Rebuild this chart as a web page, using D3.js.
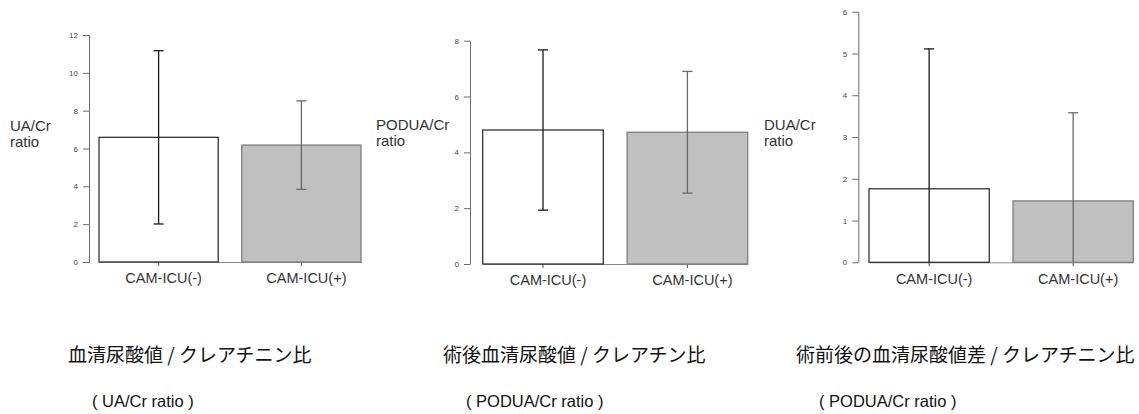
<!DOCTYPE html>
<html>
<head>
<meta charset="utf-8">
<script src="https://cdn.jsdelivr.net/npm/d3@7"></script>
<style>
  html, body { margin: 0; padding: 0; background: #fff; }
  svg { display: block; }
  .tick text { font-family: "Liberation Sans", Arial, sans-serif; }
</style>
</head>
<body>
<svg id="chart" width="1139" height="414"></svg>
<script>
// Group categories shared by all three panels
const categories = ["CAM-ICU(-)", "CAM-ICU(+)"];

// Serum uric acid / creatinine ratio (mean, SD)
const uaMeans = [6.59, 6.18];
const uaSD = [4.58, 2.34];
const uaTicks = [0, 2, 4, 6, 8, 10, 12];

// Post-operative serum uric acid / creatinine ratio
const poduaMeans = [4.80, 4.72];
const poduaSD = [2.87, 2.18];
const poduaTicks = [0, 2, 4, 6, 8];

// Pre/post-operative difference of serum uric acid / creatinine ratio
const duaMeans = [1.76, 1.47];
const duaSD = [3.35, 2.11];
const duaTicks = [0, 1, 2, 3, 4, 5, 6];

const yLabels = [["UA/Cr", "ratio"], ["PODUA/Cr", "ratio"], ["DUA/Cr", "ratio"]];
const titles = ["血清尿酸値 / クレアチニン比", "術後血清尿酸値 / クレアチン比", "術前後の血清尿酸値差 / クレアチニン比"];
const subtitles = ["( UA/Cr ratio )", "( PODUA/Cr ratio )", "( PODUA/Cr ratio )"];

// Panel layout (pixels)
const panels = [
  { means: uaMeans, sds: uaSD, ticks: uaTicks, axisX: 89, yTop: 35, yBottom: 262, barL: 99, barR: 361,
    labelX: 10, labelY: 131, titleX: 68, subX: 92 },
  { means: poduaMeans, sds: poduaSD, ticks: poduaTicks, axisX: 470, yTop: 40.7, yBottom: 264, barL: 482.7, barR: 747.7,
    labelX: 376, labelY: 129.5, titleX: 443, subX: 466 },
  { means: duaMeans, sds: duaSD, ticks: duaTicks, axisX: 858.3, yTop: 11.7, yBottom: 262.3, barL: 869, barR: 1133.3,
    labelX: 764, labelY: 130, titleX: 796, subX: 819 }
];

const barFill = ["#ffffff", "#c0c0c0"];
const barStroke = ["#333333", "#7d7d7d"];
const errColor = ["#1a1a1a", "#6a6a6a"];

const svg = d3.select("#chart");

panels.forEach((p, i) => {
  const g = svg.append("g");
  const y = d3.scaleLinear()
    .domain([d3.min(p.ticks), d3.max(p.ticks)])
    .range([p.yBottom, p.yTop]);
  const x = d3.scaleBand()
    .domain(categories)
    .range([p.barL, p.barR])
    .paddingInner(0.165)
    .paddingOuter(0);

  // y axis
  const yAxis = g.append("g")
    .attr("transform", `translate(${p.axisX},0)`)
    .call(d3.axisLeft(y).tickValues(p.ticks).tickSize(6).tickSizeOuter(0).tickPadding(5).tickFormat(d3.format("d")));
  yAxis.select(".domain").attr("stroke", "#6b6b6b").attr("stroke-width", 1);
  yAxis.selectAll(".tick line").attr("stroke", "#6b6b6b");
  yAxis.selectAll(".tick text").attr("fill", "#444").style("font-size", "8px");

  // x axis baseline with centre ticks
  const xAxis = g.append("g")
    .attr("transform", `translate(0,${p.yBottom})`)
    .call(d3.axisBottom(x).tickSize(4).tickSizeOuter(0).tickPadding(7));
  xAxis.select(".domain").attr("stroke", "#8a8a8a").attr("stroke-width", 1);
  xAxis.selectAll(".tick line").attr("stroke", "#555");
  xAxis.selectAll(".tick text")
    .attr("fill", "#333")
    .attr("dx", 5)
    .style("font-size", "14.5px");

  // bars
  g.selectAll("rect.bar")
    .data(categories)
    .join("rect")
    .attr("class", "bar")
    .attr("x", d => x(d))
    .attr("y", (d, j) => y(p.means[j]))
    .attr("width", x.bandwidth())
    .attr("height", (d, j) => y(0) - y(p.means[j]))
    .attr("fill", (d, j) => barFill[j])
    .attr("stroke", (d, j) => barStroke[j])
    .attr("stroke-width", 1.3);

  // error bars (mean ± SD, clipped at zero)
  const capW = 5;
  categories.forEach((c, j) => {
    const cx = x(c) + x.bandwidth() / 2;
    const hi = p.means[j] + p.sds[j];
    const loRaw = p.means[j] - p.sds[j];
    const lo = Math.max(0, loRaw);
    const eg = g.append("g").attr("stroke", errColor[j]).attr("stroke-width", 1.3);
    eg.append("line").attr("x1", cx).attr("x2", cx).attr("y1", y(hi)).attr("y2", y(lo));
    eg.append("line").attr("x1", cx - capW).attr("x2", cx + capW).attr("y1", y(hi)).attr("y2", y(hi));
    if (loRaw >= 0) {
      eg.append("line").attr("x1", cx - capW).attr("x2", cx + capW).attr("y1", y(lo)).attr("y2", y(lo));
    }
  });

  // y label (two lines)
  const yl = svg.append("text")
    .attr("x", p.labelX)
    .attr("y", p.labelY)
    .attr("fill", "#333")
    .style("font-family", "'Liberation Sans', Arial, sans-serif")
    .style("font-size", "15px");
  yl.selectAll("tspan")
    .data(yLabels[i])
    .join("tspan")
    .attr("x", p.labelX)
    .attr("dy", (d, k) => k === 0 ? 0 : 16)
    .text(d => d);

  // panel caption
  svg.append("text")
    .attr("x", p.titleX)
    .attr("y", 362)
    .attr("fill", "#111")
    .style("font-family", "'Noto Sans CJK JP', sans-serif")
    .style("font-size", "19px")
    .text(titles[i]);

  svg.append("text")
    .attr("x", p.subX)
    .attr("y", 407)
    .attr("fill", "#111")
    .style("font-family", "'Liberation Sans', Arial, sans-serif")
    .style("font-size", "16.5px")
    .text(subtitles[i]);
});
</script>
</body>
</html>
